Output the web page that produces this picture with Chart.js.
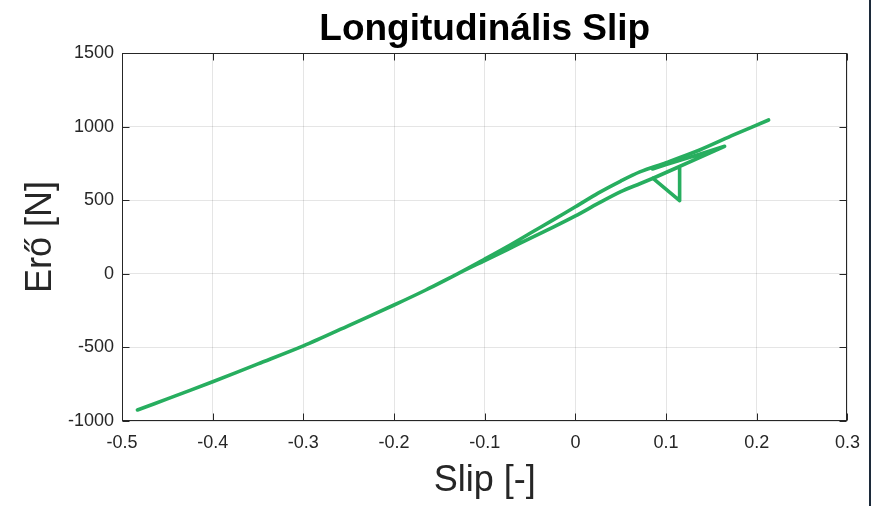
<!DOCTYPE html>
<html><head><meta charset="utf-8">
<script src="https://cdn.jsdelivr.net/npm/chart.js@4.4.1/dist/chart.umd.min.js"></script>
<style>
html,body{margin:0;padding:0;background:#fff;}
#wrap{position:relative;width:871px;height:506px;overflow:hidden;background:#fff;}
#edge{position:absolute;left:869px;top:0;width:2px;height:506px;background:#1c2a3a;}
</style></head><body>
<div id="wrap"><canvas id="c" width="871" height="506"></canvas><div id="edge"></div></div>
<script>
const titleText = 'Longitudinális Slip';
const xTitle = 'Slip [-]';
const yTitle = 'Erő [N]';
const xTicks = [-0.5, -0.4, -0.3, -0.2, -0.1, 0, 0.1, 0.2, 0.3];
const yTicks = [-1000, -500, 0, 500, 1000, 1500];

// smooth part of the trace: upper branch down, main curve, lower branch back up
const slipMain = [
  0.213, 0.175, 0.137, 0.1, 0.071, 0.05, 0.025, 0, -0.025, -0.05, -0.075, -0.1,
  -0.13, -0.165, -0.2, -0.25, -0.3, -0.35, -0.4, -0.45, -0.483,
  -0.45, -0.4, -0.35, -0.3, -0.25, -0.2, -0.165, -0.13,
  -0.1, -0.075, -0.05, -0.025, 0, 0.025, 0.05, 0.071, 0.0856
];
const forceMain = [
  1045, 945, 841, 755, 692, 630, 548, 455, 365, 275, 185, 100,
  0, -110, -212, -352, -490, -612, -733, -850, -925,
  -850, -733, -612, -490, -352, -212, -110, 0,
  90, 165, 240, 315, 393, 478, 558, 612, 649
];
// sharp part: triangle and thin lens near the top
const slipLoop = [0.0856, 0.1149, 0.1149, 0.0856, 0.1645, 0.137, 0.1, 0.085];
const forceLoop = [649, 497, 728, 649, 866, 812, 742, 712];

const FONT = '"Liberation Sans", Arial, sans-serif';
const TXT = '#262626';
const GREEN = '#27ae5f';

const frame = {
  id: 'frame',
  beforeDraw(chart) {
    const c = chart.ctx;
    c.save(); c.fillStyle = '#fff'; c.fillRect(0, 0, chart.width, chart.height); c.restore();
  },
  afterDraw(chart) {
    const c = chart.ctx, a = chart.chartArea;
    const xs = chart.scales.x, ys = chart.scales.y;
    c.save();
    c.strokeStyle = TXT; c.lineWidth = 1;
    c.beginPath();
    const L = Math.round(a.left) + 0.5, R = Math.round(a.right) - 0.5;
    const T = Math.round(a.top) + 0.5, B = Math.round(a.bottom) - 0.5;
    xTicks.forEach(v => {
      const p = Math.round(xs.getPixelForValue(v)) + 0.5;
      c.moveTo(p, B); c.lineTo(p, B - 7);
      c.moveTo(p, T); c.lineTo(p, T + 7);
    });
    yTicks.forEach(v => {
      const p = Math.round(ys.getPixelForValue(v)) + 0.5;
      c.moveTo(L, p); c.lineTo(L + 7, p);
      c.moveTo(R, p); c.lineTo(R - 7, p);
    });
    c.stroke();
    c.strokeRect(L, T, R - L, B - T);
    const cx = (a.left + a.right) / 2, cy = (a.top + a.bottom) / 2;
    c.fillStyle = '#000';
    c.textAlign = 'center'; c.textBaseline = 'alphabetic';
    c.font = 'bold 37px ' + FONT;
    c.fillText(titleText, cx, 40);
    c.fillStyle = TXT;
    c.font = '36px ' + FONT;
    c.fillText(xTitle, cx, 491);
    c.translate(51, cy); c.rotate(-Math.PI / 2);
    c.fillText(yTitle, 0, 0);
    c.restore();
  }
};

const fmt = v => { const r = Math.round(v * 10) / 10; return r === 0 ? '0' : String(r); };
const lineStyle = {
  showLine: true, borderColor: GREEN, backgroundColor: GREEN, borderWidth: 3.6,
  pointRadius: 0, pointHoverRadius: 0, fill: false,
  borderJoinStyle: 'round', borderCapStyle: 'round'
};

new Chart(document.getElementById('c'), {
  type: 'scatter',
  data: {
    datasets: [
      Object.assign({ data: slipMain.map((x, i) => ({ x: x, y: forceMain[i] })), tension: 0.3 }, lineStyle),
      Object.assign({ data: slipLoop.map((x, i) => ({ x: x, y: forceLoop[i] })), tension: 0 }, lineStyle)
    ]
  },
  options: {
    responsive: false,
    animation: false,
    devicePixelRatio: 1,
    events: [],
    layout: { padding: { top: 53, right: 23, left: 0, bottom: 0 } },
    plugins: { legend: { display: false }, tooltip: { enabled: false }, title: { display: false } },
    scales: {
      x: {
        type: 'linear', min: -0.5, max: 0.3,
        afterBuildTicks: s => { s.ticks = xTicks.map(v => ({ value: v })); },
        afterFit: s => { s.height = 85; },
        grid: { color: 'rgba(0,0,0,0.1)', lineWidth: 1, drawTicks: false },
        border: { display: false },
        ticks: { font: { family: FONT, size: 18 }, color: TXT, padding: 11, maxRotation: 0, autoSkip: false, callback: v => fmt(v) }
      },
      y: {
        type: 'linear', min: -1000, max: 1500,
        afterBuildTicks: s => { s.ticks = yTicks.map(v => ({ value: v })); },
        afterFit: s => { s.width = 122; },
        grid: { color: 'rgba(0,0,0,0.1)', lineWidth: 1, drawTicks: false },
        border: { display: false },
        ticks: { font: { family: FONT, size: 18 }, color: TXT, padding: 8, autoSkip: false, callback: v => String(v) }
      }
    }
  },
  plugins: [frame]
});
</script>
</body></html>
